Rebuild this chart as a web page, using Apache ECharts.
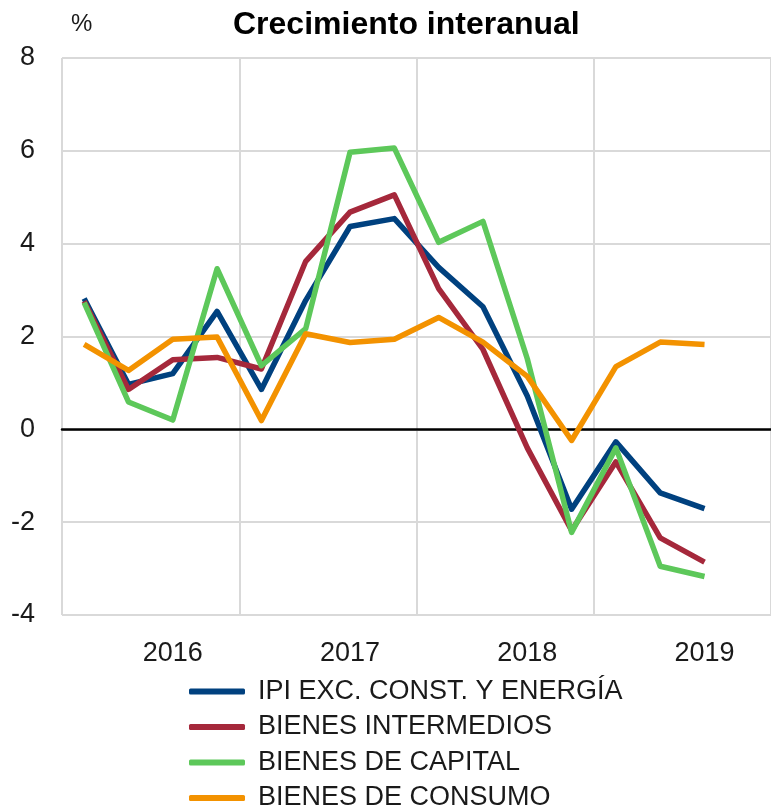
<!DOCTYPE html>
<html>
<head>
<meta charset="utf-8">
<script src="https://cdn.jsdelivr.net/npm/echarts@6/dist/echarts.min.js"></script>
<style>
  html, body { margin: 0; padding: 0; background: #fff; }
  #main { width: 771px; height: 811px; }
</style>
</head>
<body>
<div id="main"></div>
<script>
// quarters 2016 T1 .. 2019 T4 (last quarter has no data yet)
const trimestres = ['2016 T1', '2016 T2', '2016 T3', '2016 T4',
                    '2017 T1', '2017 T2', '2017 T3', '2017 T4',
                    '2018 T1', '2018 T2', '2018 T3', '2018 T4',
                    '2019 T1', '2019 T2', '2019 T3', '2019 T4']
const anios = ['2016', '2017', '2018', '2019']

const ipi = [2.82, 0.97, 1.20, 2.54, 0.86, 2.78, 4.37, 4.54, 3.49, 2.64, 0.72, -1.72, -0.27, -1.37, -1.71]
const intermedios = [2.76, 0.86, 1.50, 1.55, 1.30, 3.62, 4.68, 5.05, 3.03, 1.72, -0.40, -2.18, -0.70, -2.34, -2.86]
const capital = [2.73, 0.59, 0.20, 3.46, 1.37, 2.17, 5.97, 6.06, 4.03, 4.48, 1.52, -2.22, -0.40, -2.95, -3.17]
const consumo = [1.83, 1.27, 1.94, 1.99, 0.19, 2.06, 1.87, 1.94, 2.41, 1.88, 1.14, -0.24, 1.35, 1.88, 1.83]

const nombres = ['IPI EXC. CONST. Y ENERGÍA', 'BIENES INTERMEDIOS', 'BIENES DE CAPITAL', 'BIENES DE CONSUMO']
const colores = ['#00417f', '#a5283b', '#5dc85a', '#f39200']

const fuente = 'Liberation Sans'

var myChart = echarts.init(document.getElementById('main'))

function linea(nombre, datos, color) {
  return {
    name: nombre,
    type: 'line',
    data: datos,
    xAxisIndex: 0,
    symbol: 'none',
    color: color,
    lineStyle: { width: 5.5, color: color, join: 'round' },
    animation: false
  }
}

// one legend per row, so the list does not wrap into a second column
let leyendas = nombres.map((nombre, i) => {
  return {
    left: 189,
    top: 678 + i * 35.5,
    padding: 0,
    itemWidth: 56,
    itemHeight: 6,
    icon: 'roundRect',
    data: [nombre],
    textStyle: { fontFamily: fuente, fontSize: 27, color: '#1a1a1a', padding: [0, 0, 0, 8] }
  }
})

option = {
  textStyle: { fontFamily: fuente },
  title: [
    {
      text: 'Crecimiento interanual',
      left: 228,
      top: 4,
      textStyle: { fontFamily: fuente, fontSize: 32, fontWeight: 'bold', color: '#000' }
    },
    {
      text: '%',
      left: 66,
      top: 7,
      textStyle: { fontFamily: fuente, fontSize: 24, fontWeight: 'normal', color: '#1a1a1a' }
    }
  ],
  legend: leyendas,
  grid: { left: 62, right: 0, top: 58, bottom: 196 },
  xAxis: [
    {
      // data axis, its line is the black zero line
      type: 'category',
      data: trimestres,
      position: 'top',
      boundaryGap: true,
      axisLine: { show: true, onZero: true, lineStyle: { color: '#000', width: 2.5 } },
      axisTick: { show: false },
      axisLabel: { show: false },
      splitLine: { show: false }
    },
    {
      // year labels, placed at the third quarter of each year
      type: 'category',
      data: trimestres,
      position: 'bottom',
      boundaryGap: true,
      axisLine: { show: false, onZero: false },
      axisTick: { show: false },
      axisLabel: {
        fontFamily: fuente, fontSize: 27, color: '#1a1a1a', margin: 25,
        interval: function (i) { return i % 4 === 2 },
        formatter: function (v) { return v.slice(0, 4) }
      },
      splitLine: { show: false }
    },
    {
      // year separators
      type: 'category',
      data: anios,
      position: 'bottom',
      boundaryGap: true,
      axisLine: { show: false, onZero: false },
      axisTick: { show: false },
      axisLabel: { show: false },
      splitLine: { show: true, lineStyle: { color: '#d9d9d9', width: 2 } }
    }
  ],
  yAxis: {
    type: 'value',
    min: -4,
    max: 8,
    interval: 2,
    axisLine: { show: false },
    axisTick: { show: false },
    axisLabel: { fontFamily: fuente, fontSize: 27, color: '#1a1a1a', margin: 27 },
    splitLine: { show: true, lineStyle: { color: '#d9d9d9', width: 2 } }
  },
  series: [
    linea(nombres[0], ipi, colores[0]),
    linea(nombres[1], intermedios, colores[1]),
    linea(nombres[2], capital, colores[2]),
    linea(nombres[3], consumo, colores[3])
  ]
}

myChart.setOption(option)
</script>
</body>
</html>
